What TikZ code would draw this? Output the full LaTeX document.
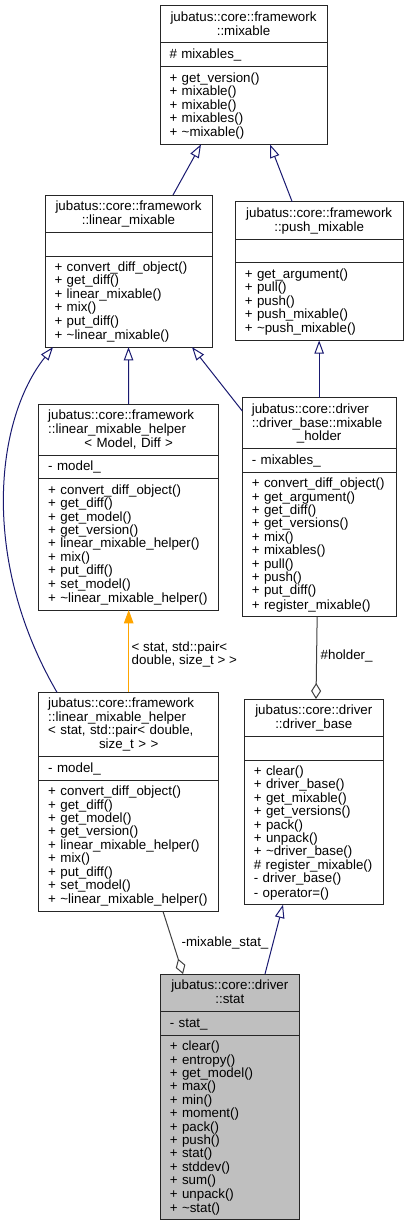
\documentclass[tikz,border=0pt]{standalone}
\usepackage{fontspec}
\setmainfont{Liberation Sans}
\usetikzlibrary{positioning, arrows.meta}
\definecolor{inhblue}{RGB}{25,25,112}
\definecolor{tplorange}{RGB}{255,165,0}
\newcommand{\leftrow}[1]{\leavevmode\hbox to\linewidth{#1\hfil}}
\newcommand{\rowstrut}{\rule[-2.7pt]{0pt}{13.4pt}}

\begin{document}
\begin{tikzpicture}[x=1pt, y=-1pt,
  sec/.style={draw=black!85, line width=1pt, fill=white, inner xsep=9.5pt, inner ysep=0pt, outer sep=0pt, align=left,
    font=\fontsize{13.33pt}{13.4pt}\selectfont, execute at begin node=\rowstrut, execute at end node=\rowstrut},
  ttl/.style={sec, align=center},
  cur/.style={fill=black!25},
  lbl/.style={anchor=west, inner sep=0pt, align=left, font=\fontsize{13.33pt}{13.4pt}\selectfont,
    execute at begin node=\rowstrut, execute at end node=\rowstrut},
  inh/.style={draw=inhblue, line width=1pt, -{Triangle[open, length=13.3pt, width=9.5pt]}},
  tpl/.style={draw=tplorange, line width=1pt, -{Triangle[length=13.3pt, width=9.5pt, fill=tplorange]}},
  usg/.style={draw=black!75, line width=1pt, -{Diamond[open, length=16pt, width=10pt]}}]
\useasboundingbox (0,0) rectangle (408,1225);

\node[ttl, anchor=north west, text width=148pt, minimum height=37.3pt] (mixT) at (160,5.7) {jubatus::core::framework\\::mixable};
\node[sec, below=0pt of mixT, text width=148pt, minimum height=23.9pt] (mixA) {\#~mixables\_};
\node[sec, below=0pt of mixA, text width=148pt, minimum height=77.5pt] (mixM) {+~get\_version()\\+~mixable()\\+~mixable()\\+~mixables()\\+~\textasciitilde mixable()};

\node[ttl, anchor=north west, text width=148pt, minimum height=37.3pt] (linT) at (45,195) {jubatus::core::framework\\::linear\_mixable};
\node[sec, below=0pt of linT, text width=148pt, minimum height=23.9pt] (linA) {};
\node[sec, below=0pt of linA, text width=148pt, minimum height=90.9pt] (linM) {+~convert\_diff\_object()\\+~get\_diff()\\+~linear\_mixable()\\+~mix()\\+~put\_diff()\\+~\textasciitilde linear\_mixable()};

\node[ttl, anchor=north west, text width=148.7pt, minimum height=37.3pt] (pushT) at (235.3,201.7) {jubatus::core::framework\\::push\_mixable};
\node[sec, below=0pt of pushT, text width=148.7pt, minimum height=23.9pt] (pushA) {};
\node[sec, below=0pt of pushA, text width=148.7pt, minimum height=77.5pt] (pushM) {+~get\_argument()\\+~pull()\\+~push()\\+~push\_mixable()\\+~\textasciitilde push\_mixable()};

\node[ttl, anchor=north west, text width=161pt, minimum height=50.7pt] (hmdT) at (38.7,404.3) {\leftrow{jubatus::core::framework}\\\leftrow{::linear\_mixable\_helper}\\< Model, Diff >};
\node[sec, below=0pt of hmdT, text width=161pt, minimum height=23.9pt] (hmdA) {-~model\_};
\node[sec, below=0pt of hmdA, text width=161pt, minimum height=131.1pt] (hmdM) {+~convert\_diff\_object()\\+~get\_diff()\\+~get\_model()\\+~get\_version()\\+~linear\_mixable\_helper()\\+~mix()\\+~put\_diff()\\+~set\_model()\\+~\textasciitilde linear\_mixable\_helper()};

\node[ttl, anchor=north west, text width=134.7pt, minimum height=50.7pt] (holdT) at (242.3,397.7) {\leftrow{jubatus::core::driver}\\\leftrow{::driver\_base::mixable}\\\_holder};
\node[sec, below=0pt of holdT, text width=134.7pt, minimum height=23.9pt] (holdA) {-~mixables\_};
\node[sec, below=0pt of holdA, text width=134.7pt, minimum height=144.5pt] (holdM) {+~convert\_diff\_object()\\+~get\_argument()\\+~get\_diff()\\+~get\_versions()\\+~mix()\\+~mixables()\\+~pull()\\+~push()\\+~put\_diff()\\+~register\_mixable()};

\node[ttl, anchor=north west, text width=161pt, minimum height=64.1pt] (hstT) at (38.7,692.3) {\leftrow{jubatus::core::framework}\\\leftrow{::linear\_mixable\_helper}\\\leftrow{< stat, std::pair< double,}\\size\_t > >};
\node[sec, below=0pt of hstT, text width=161pt, minimum height=23.9pt] (hstA) {-~model\_};
\node[sec, below=0pt of hstA, text width=161pt, minimum height=131.1pt] (hstM) {+~convert\_diff\_object()\\+~get\_diff()\\+~get\_model()\\+~get\_version()\\+~linear\_mixable\_helper()\\+~mix()\\+~put\_diff()\\+~set\_model()\\+~\textasciitilde linear\_mixable\_helper()};

\node[ttl, anchor=north west, text width=120pt, minimum height=37.3pt] (dbT) at (244.3,699) {jubatus::core::driver\\::driver\_base};
\node[sec, below=0pt of dbT, text width=120pt, minimum height=23.9pt] (dbA) {};
\node[sec, below=0pt of dbA, text width=120pt, minimum height=144.5pt] (dbM) {+~clear()\\+~driver\_base()\\+~get\_mixable()\\+~get\_versions()\\+~pack()\\+~unpack()\\+~\textasciitilde driver\_base()\\\#~register\_mixable()\\-~driver\_base()\\-~operator=()};

\node[ttl, cur, anchor=north west, text width=120pt, minimum height=37.3pt] (statT) at (160.3,974) {jubatus::core::driver\\::stat};
\node[sec, cur, below=0pt of statT, text width=120pt, minimum height=23.9pt] (statA) {-~stat\_};
\node[sec, cur, below=0pt of statA, text width=120pt, minimum height=184.7pt] (statM) {+~clear()\\+~entropy()\\+~get\_model()\\+~max()\\+~min()\\+~moment()\\+~pack()\\+~push()\\+~stat()\\+~stddev()\\+~sum()\\+~unpack()\\+~\textasciitilde stat()};

\node[lbl] (tplL) at (131.5,654.5) {< stat, std::pair<\\double, size\_t > >};
\node[lbl] (holdL) at (320.5,655) {\#holder\_};
\node[lbl] (statL) at (181.5,942.7) {-mixable\_stat\_};

\draw[inh] ([xshift=44.5pt]linT.north) -- ([xshift=-42.5pt]mixM.south);
\draw[inh] ([xshift=-27pt]pushT.north) -- ([xshift=26.5pt]mixM.south);
\draw[inh] (hmdT.north) -- (linM.south);
\draw[inh] ([yshift=-13.3pt]holdT.north west) -- ([xshift=63.5pt]linM.south);
\draw[inh] (holdT.north) -- (pushM.south);
\draw[inh] ([xshift=-71.7pt]hstT.north) .. controls (-20,560) and (-5,420) .. ([xshift=-75.5pt]linM.south);
\draw[tpl] (hstT.north) -- (hmdM.south);
\draw[usg] ([xshift=-2pt]holdM.south) -- ([xshift=2.2pt]dbT.north);
\draw[usg] ([xshift=34.3pt]hstM.south) -- ([xshift=-46.8pt]statT.north);
\draw[inh] ([xshift=35.2pt]statT.north) -- ([xshift=-30.8pt]dbM.south);
\end{tikzpicture}
\end{document}
